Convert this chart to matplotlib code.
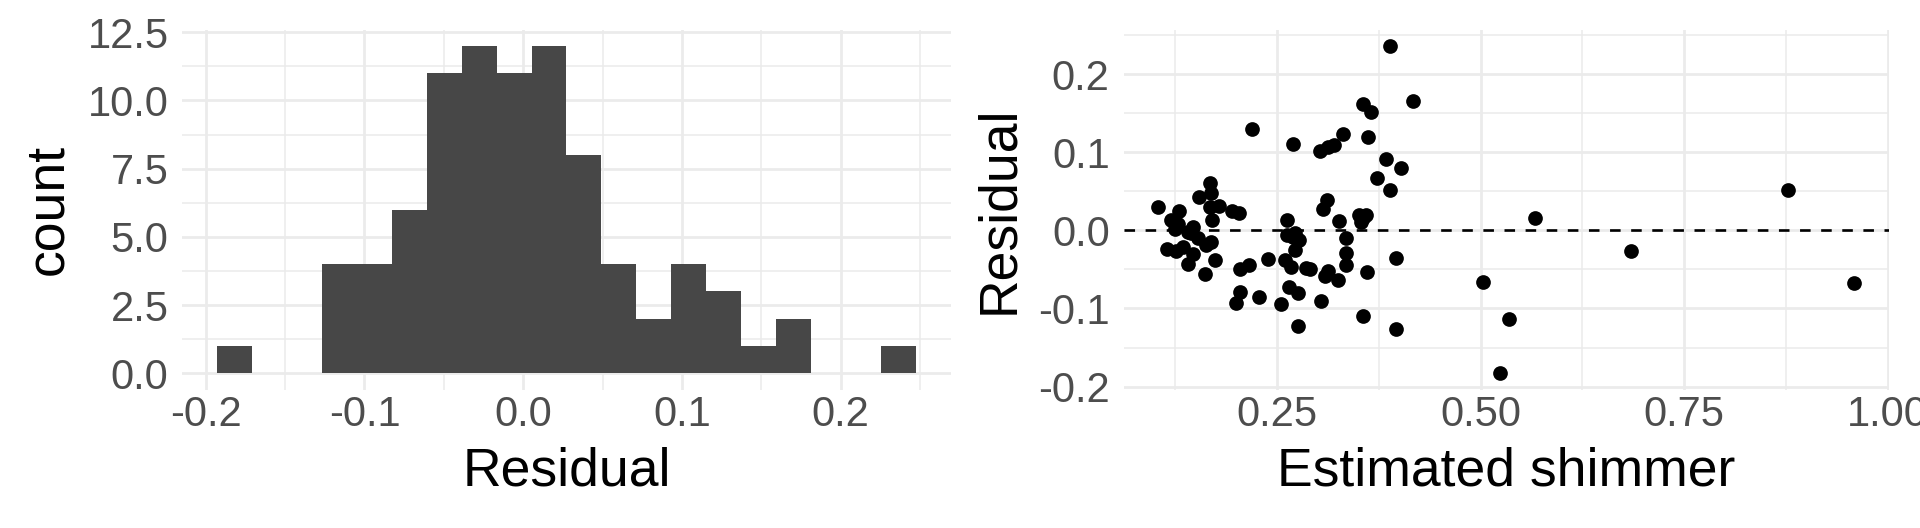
import numpy as np
import matplotlib
matplotlib.use('Agg')
import matplotlib.pyplot as plt
from matplotlib.ticker import MultipleLocator, FormatStrFormatter

plt.rcParams['font.family'] = ['Liberation Sans', 'DejaVu Sans']
plt.rcParams['axes.unicode_minus'] = False

# histogram of residuals (counts per bin)
bin_start = -0.1927
bin_width = 0.022
counts = [1, 0, 0, 4, 4, 6, 11, 12, 11, 12, 8, 4, 2, 4, 3, 1, 2, 0, 0, 1]

# residual vs estimated shimmer
shimmer = [0.389, 0.417, 0.355, 0.365, 0.219, 0.331, 0.361, 0.270, 0.320, 0.313,
           0.303, 0.384, 0.402, 0.373, 0.388, 0.167, 0.169, 0.154, 0.104, 0.129,
           0.178, 0.167, 0.195, 0.203, 0.311, 0.306, 0.170, 0.119, 0.128, 0.125,
           0.147, 0.144, 0.262, 0.326, 0.351, 0.359, 0.353, 0.262, 0.269, 0.277,
           0.335, 0.115, 0.126, 0.134, 0.147, 0.162, 0.169, 0.173, 0.140, 0.161,
           0.272, 0.335, 0.396, 0.239, 0.215, 0.204, 0.259, 0.267, 0.285, 0.290,
           0.335, 0.313, 0.309, 0.325, 0.360, 0.503, 0.685, 0.878, 0.567, 0.959,
           0.204, 0.199, 0.228, 0.265, 0.276, 0.255, 0.304, 0.355, 0.275, 0.396,
           0.535, 0.524, 0.140, 0.272, 0.153, 0.356]
residual = [0.236, 0.166, 0.162, 0.151, 0.130, 0.123, 0.120, 0.110, 0.109, 0.107,
            0.101, 0.091, 0.080, 0.067, 0.052, 0.061, 0.048, 0.043, 0.030, 0.025,
            0.031, 0.030, 0.025, 0.022, 0.039, 0.027, 0.013, 0.013, 0.008, 0.002,
            0.004, -0.004, 0.013, 0.012, 0.019, 0.020, 0.011, -0.006, -0.009, -0.013,
            -0.010, -0.024, -0.026, -0.021, -0.030, -0.019, -0.015, -0.038, -0.043, -0.056,
            -0.025, -0.029, -0.035, -0.037, -0.045, -0.050, -0.038, -0.047, -0.048, -0.050,
            -0.044, -0.052, -0.059, -0.064, -0.053, -0.066, -0.026, 0.052, 0.016, -0.068,
            -0.079, -0.093, -0.085, -0.073, -0.080, -0.094, -0.090, -0.109, -0.122, -0.126,
            -0.114, -0.183, -0.002, -0.004, -0.010, 0.016]

GRID = '#EBEBEB'
TICK_COLOR = '#4D4D4D'


def expand(lo, hi, mult=0.05):
    pad = (hi - lo) * mult
    return lo - pad, hi + pad


def style(ax, xmajor, xminor, ymajor, yminor, xfmt, yfmt):
    for s in ax.spines.values():
        s.set_visible(False)
    ax.xaxis.set_major_locator(MultipleLocator(xmajor))
    ax.xaxis.set_minor_locator(MultipleLocator(xminor))
    ax.yaxis.set_major_locator(MultipleLocator(ymajor))
    ax.yaxis.set_minor_locator(MultipleLocator(yminor))
    ax.xaxis.set_major_formatter(FormatStrFormatter(xfmt))
    ax.yaxis.set_major_formatter(FormatStrFormatter(yfmt))
    ax.grid(which='major', color=GRID, linewidth=2.0, zorder=0)
    ax.grid(which='minor', color=GRID, linewidth=1.1, zorder=0)
    ax.set_axisbelow(True)
    ax.tick_params(which='both', length=0)
    ax.tick_params(axis='x', labelsize=30, labelcolor=TICK_COLOR, pad=4)
    ax.tick_params(axis='y', labelsize=30, labelcolor=TICK_COLOR, pad=10)


fig = plt.figure(figsize=(19.2, 5.28), dpi=100)

# left: histogram
ax1 = fig.add_axes([0.0950, 0.2619, 0.4001, 0.6822])
edges = bin_start + bin_width * np.arange(len(counts) + 1)
ax1.bar(edges[:-1], counts, width=bin_width, align='edge',
        color='#474747', linewidth=0, zorder=2)
ax1.set_xlim(*expand(edges[0], edges[-1]))
ax1.set_ylim(*expand(0, max(counts)))
style(ax1, 0.1, 0.05, 2.5, 1.25, '%.1f', '%.1f')
ax1.set_xlabel('Residual', fontsize=38.5, labelpad=8)
ax1.set_ylabel('count', fontsize=38.5, labelpad=10)

# right: scatter
ax2 = fig.add_axes([0.5852, 0.2619, 0.3987, 0.6822])
ax2.axhline(0, color='black', linewidth=1.9, linestyle=(0, (4, 4)), zorder=2)
ax2.scatter(shimmer, residual, s=112, color='black', linewidths=0, zorder=3)
ax2.set_xlim(*expand(min(shimmer), max(shimmer)))
ax2.set_ylim(*expand(min(residual), max(residual)))
style(ax2, 0.25, 0.125, 0.1, 0.05, '%.2f', '%.1f')
ax2.set_xlabel('Estimated shimmer', fontsize=38.5, labelpad=8)
ax2.set_ylabel('Residual', fontsize=38.5, labelpad=10)

fig.savefig('out.png', dpi=100)
